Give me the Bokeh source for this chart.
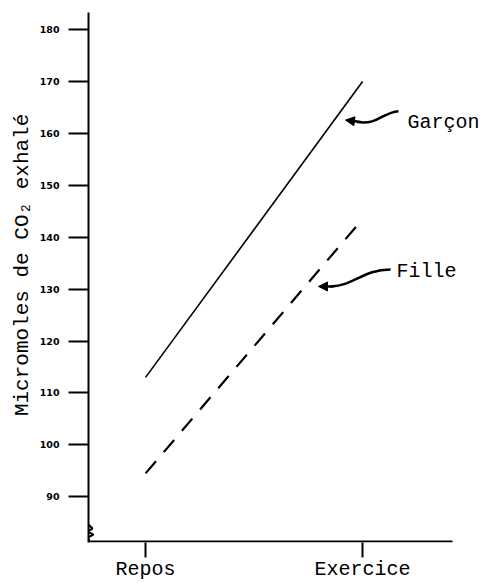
from bokeh.plotting import figure
from bokeh.models import Range1d, FixedTicker, Label, Arrow, NormalHead
from bokeh.embed import file_html
from bokeh.resources import INLINE

# ---- data ----
conditions = ["Repos", "Exercice"]
garcon = [113, 170]
fille = [94.5, 143.5]
y_ticks = [90, 100, 110, 120, 130, 140, 150, 160, 170, 180]

xs = list(range(len(conditions)))

# pixel-to-data helpers for annotations (page pixel coords)
def dx(px):
    return (px - 88) / 217.0 - 0.263

def dy(py):
    return 183.3 - (py - 12) / 5.21

W, H = 481, 583
p = figure(width=W, height=H, output_backend="svg", toolbar_location=None,
           x_range=Range1d(dx(88), dx(481)), y_range=Range1d(dy(544), dy(12)),
           min_border_left=88, min_border_right=0, min_border_top=12, min_border_bottom=35)
p.outline_line_color = None
p.xgrid.grid_line_color = None
p.ygrid.grid_line_color = None
p.background_fill_color = "white"
p.border_fill_color = "white"

# axes
p.xaxis.ticker = FixedTicker(ticks=xs)
p.xaxis.major_label_overrides = {i: c for i, c in enumerate(conditions)}
p.xaxis.major_tick_out = 15
p.xaxis.major_tick_in = 0
p.xaxis.minor_tick_line_color = None
p.xaxis.major_tick_line_width = 2
p.xaxis.axis_line_color = None
p.xaxis.major_label_text_font = "Liberation Mono"
p.xaxis.major_label_text_font_size = "20px"
p.xaxis.major_label_standoff = 0
p.xaxis.major_label_text_color = "black"

p.yaxis.ticker = FixedTicker(ticks=y_ticks)
p.yaxis.major_tick_out = 20
p.yaxis.major_tick_in = 0
p.yaxis.minor_tick_line_color = None
p.yaxis.major_tick_line_width = 2
p.yaxis.axis_line_width = 2
p.yaxis.major_label_text_font = "DejaVu Sans"
p.yaxis.major_label_text_font_style = "bold"
p.yaxis.major_label_text_font_size = "9.5px"
p.yaxis.major_label_standoff = 9
p.yaxis.major_label_text_color = "black"
p.yaxis.axis_label = "\u00a0\u00a0Micromoles de CO\u2082 exhalé"
p.yaxis.axis_label_text_font = "Liberation Mono"
p.yaxis.axis_label_text_font_style = "normal"
p.yaxis.axis_label_text_font_size = "21px"
p.yaxis.axis_label_standoff = 3
p.yaxis.axis_label_text_color = "black"

# x axis line (ends short of the right edge)
p.segment(x0=[dx(88)], y0=[dy(543)], x1=[dx(452)], y1=[dy(543)], line_color="black", line_width=2)

# data lines
p.line(xs, garcon, line_color="black", line_width=1.6)
p.line(xs, fille, line_color="black", line_width=2.2, line_dash="16 12")

# axis break zigzag
zz_px = [(88, 526), (92, 530), (87, 533), (93, 536), (87, 539), (89, 542)]
p.line([dx(a) for a, b in zz_px], [dy(b) for a, b in zz_px], line_color="black", line_width=2)

# Garçon arrow
p.bezier(x0=[dx(357)], y0=[dy(122)], x1=[dx(398)], y1=[dy(111)],
         cx0=[dx(378)], cy0=[dy(125)], cx1=[dx(382)], cy1=[dy(112)],
         line_color="black", line_width=2.5)
p.add_layout(Arrow(end=NormalHead(size=9, fill_color="black", line_color="black"),
                   x_start=dx(360), y_start=dy(122), x_end=dx(345), y_end=dy(120),
                   line_color="black", line_width=2.5))
p.add_layout(Label(x=dx(407), y=dy(122), text="Garçon", text_font="Liberation Mono",
                   text_font_size="20px", text_baseline="middle", text_color="black"))

# Fille arrow
p.bezier(x0=[dx(330)], y0=[dy(287)], x1=[dx(390)], y1=[dy(270)],
         cx0=[dx(355)], cy0=[dy(286)], cx1=[dx(362)], cy1=[dy(270)],
         line_color="black", line_width=2.5)
p.add_layout(Arrow(end=NormalHead(size=9, fill_color="black", line_color="black"),
                   x_start=dx(333), y_start=dy(287), x_end=dx(318), y_end=dy(287),
                   line_color="black", line_width=2.5))
p.add_layout(Label(x=dx(396), y=dy(272), text="Fille", text_font="Liberation Mono",
                   text_font_size="20px", text_baseline="middle", text_color="black"))

open("out.html", "w").write(file_html(p, INLINE))
